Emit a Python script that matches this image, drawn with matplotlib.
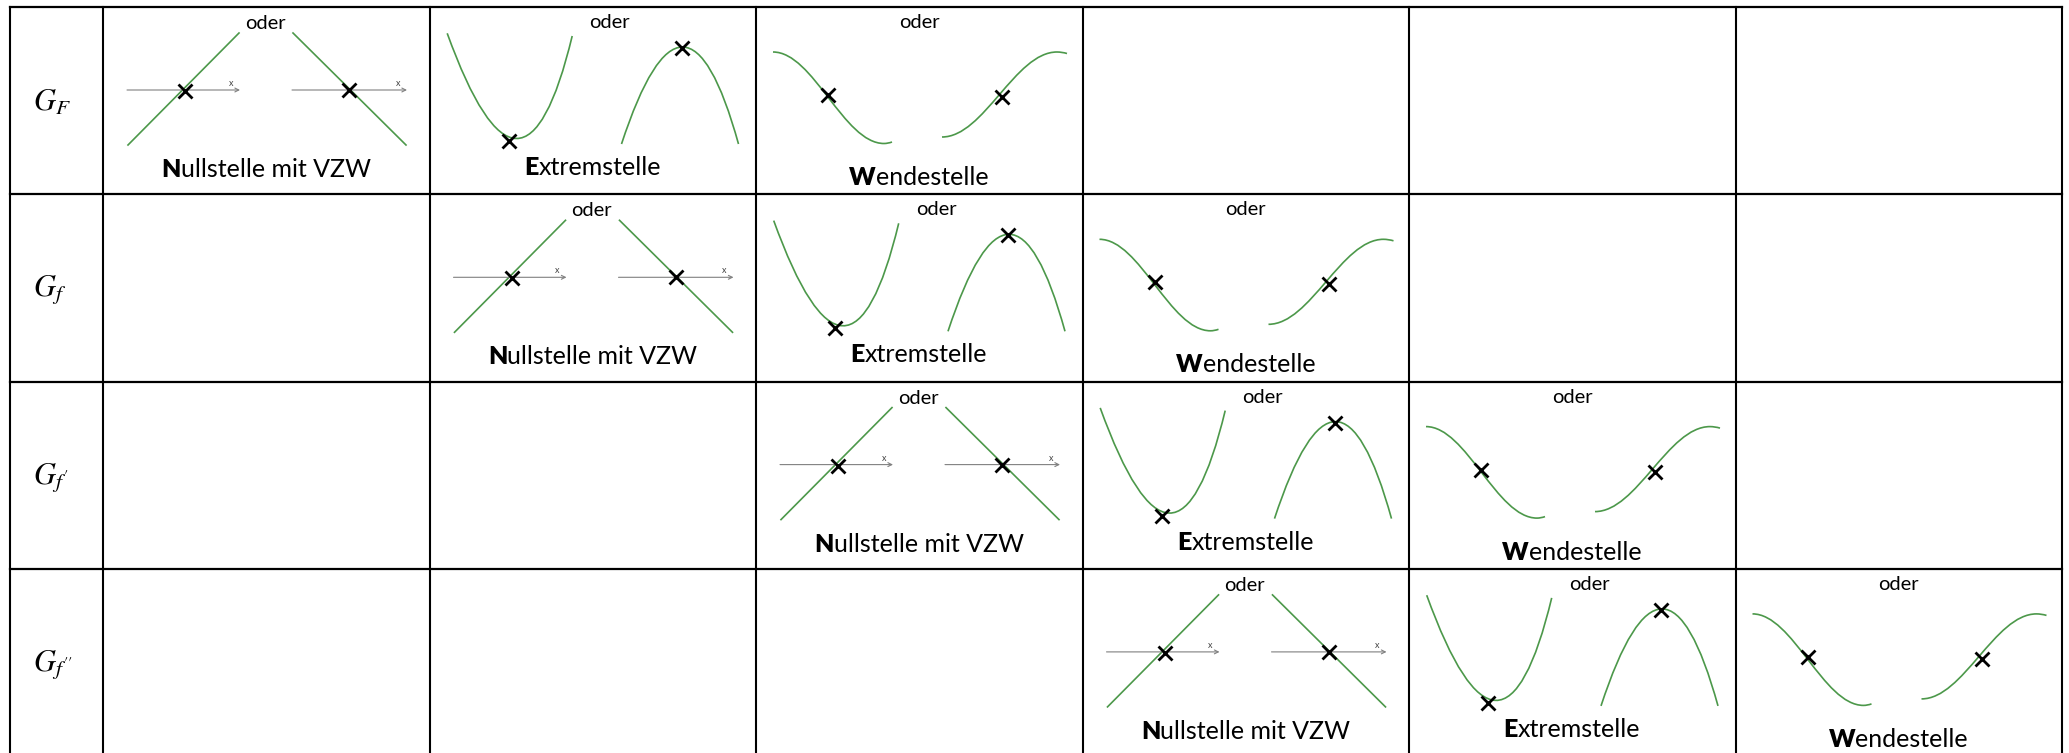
import matplotlib
matplotlib.use("Agg")
import matplotlib.pyplot as plt
from matplotlib.path import Path
from matplotlib.patches import PathPatch

# ---------------- data ----------------
row_labels = [r"$G_F$", r"$G_f$", r"$G_{f'}$", r"$G_{f''}$"]
first_col = [0, 1, 2, 3]          # column (0..5) holding "Nullstelle" in each row
n_cols = 6
kind_order = ["N", "E", "W"]
kind_bold = {"N": "N", "E": "E", "W": "W"}
kind_rest = {"N": "ullstelle mit VZW", "E": "xtremstelle", "W": "endestelle"}
oder_text = "oder"

# Nullstelle sketch (cell units, y downward)
null_lines_x = [[25, 136], [190, 303]]
null_lines_y = [[138, 26], [26, 138]]
null_axes_x = [[24, 137], [189, 304]]
null_axis_y = 83
null_cross_x = [82, 246]
null_cross_y = [84, 83]

# Extremstelle sketch: quadratic Bezier control points (parabolas)
extrem_min_ctrl = [(17.7, 26.3), (93.2, 235.4), (142.7, 29.0)]
extrem_max_ctrl = [(192.0, 137.0), (255.5, -57.0), (309.0, 137.0)]
extrem_cross_x = [79, 252]
extrem_cross_y = [134, 41]

# Wendestelle sketch: cubic + quadratic Bezier control points
wende_left_ctrl = [(17, 45), (57.4, 45), (87.6, 136.5), (128, 136.5), (132, 136.5), (136, 135)]
wende_right_ctrl = [(186, 130), (227.9, 130), (259.1, 45), (301, 45), (306, 45), (311, 46.5)]
wende_cross_x = [72, 246]
wende_cross_y = [88, 90]

# text placement in cell units
oder_pos = {"N": (162, 22), "E": (180, 21), "W": (163, 21)}
label_pos = {"N": (163, 170), "E": (163, 168), "W": (163, 178)}

# ---------------- layout ----------------
W, H = 2069, 753
DPI = 100
LEFT, FIRST_W, COL_W = 10, 93, 326.5
TOP, ROW_H = 7, 187.3
GREEN = "#4c984a"
FONT = "Lato"

fig = plt.figure(figsize=(W / DPI, H / DPI), dpi=DPI)
ax = fig.add_axes([0, 0, 1, 1])
ax.set_xlim(0, W)
ax.set_ylim(H, 0)
ax.axis("off")

n_rows = len(row_labels)
col_edges = [LEFT, LEFT + FIRST_W] + [LEFT + FIRST_W + COL_W * (i + 1) for i in range(n_cols)]
row_edges = [TOP + ROW_H * i for i in range(n_rows + 1)]
for x in col_edges:
    ax.plot([x, x], [TOP, row_edges[-1]], color="black", lw=1.5, solid_capstyle="projecting")
for y in row_edges:
    ax.plot([col_edges[0], col_edges[-1]], [y, y], color="black", lw=1.6, solid_capstyle="projecting")

for r, lab in enumerate(row_labels):
    ax.text(LEFT + 23, TOP + ROW_H * (r + 0.5) + 2, lab, fontsize=22,
            math_fontfamily="stix", ha="left", va="center")


def cell_axes(r, c):
    x0 = LEFT + FIRST_W + COL_W * c
    y0 = TOP + ROW_H * r
    a = fig.add_axes([x0 / W, 1 - (y0 + ROW_H) / H, COL_W / W, ROW_H / H])
    a.set_xlim(0, COL_W)
    a.set_ylim(ROW_H, 0)
    a.axis("off")
    a.patch.set_alpha(0)
    return a


def bezier(a, pts, codes):
    a.add_patch(PathPatch(Path(pts, codes), fill=False, edgecolor=GREEN, lw=1.2))


def crosses(a, xs, ys):
    a.plot(xs, ys, ls="none", marker="x", ms=9.5, mew=2.0, color="black", zorder=5)


pairs = []


def draw_cell(a, kind):
    ox, oy = oder_pos[kind]
    a.text(ox, oy, oder_text, fontsize=14.5, family=FONT, ha="center", va="baseline")
    if kind == "N":
        for lx, ly, axx in zip(null_lines_x, null_lines_y, null_axes_x):
            a.annotate("", xy=(axx[1], null_axis_y), xytext=(axx[0], null_axis_y),
                       arrowprops=dict(arrowstyle="->", color="#808080", lw=0.8,
                                       mutation_scale=7, shrinkA=0, shrinkB=0))
            a.text(axx[1] - 9, null_axis_y - 4, "x", fontsize=6.5, family=FONT,
                   color="#444444", ha="center", va="baseline")
            a.plot(lx, ly, color=GREEN, lw=1.2)
        crosses(a, null_cross_x, null_cross_y)
    elif kind == "E":
        codes = [Path.MOVETO, Path.CURVE3, Path.CURVE3]
        bezier(a, extrem_min_ctrl, codes)
        bezier(a, extrem_max_ctrl, codes)
        crosses(a, extrem_cross_x, extrem_cross_y)
    else:
        codes = [Path.MOVETO, Path.CURVE4, Path.CURVE4, Path.CURVE4, Path.CURVE3, Path.CURVE3]
        bezier(a, wende_left_ctrl, codes)
        bezier(a, wende_right_ctrl, codes)
        crosses(a, wende_cross_x, wende_cross_y)
    lx, ly = label_pos[kind]
    t1 = a.text(lx, ly, kind_bold[kind], fontsize=18, family=FONT, fontweight="heavy",
                ha="left", va="baseline")
    t2 = a.text(lx, ly, kind_rest[kind], fontsize=18, family=FONT,
                ha="left", va="baseline")
    pairs.append((a, lx, t1, t2))


for r in range(n_rows):
    for k, kind in enumerate(kind_order):
        c = first_col[r] + k
        if c < n_cols:
            draw_cell(cell_axes(r, c), kind)

fig.canvas.draw()
renderer = fig.canvas.get_renderer()
for a, cx, t1, t2 in pairs:
    w1 = t1.get_window_extent(renderer).width
    w2 = t2.get_window_extent(renderer).width
    scale = COL_W / a.get_window_extent(renderer).width
    start = cx - (w1 + w2) * scale / 2
    t1.set_x(start)
    t2.set_x(start + w1 * scale)

fig.savefig("out.png", dpi=DPI, facecolor="white")
